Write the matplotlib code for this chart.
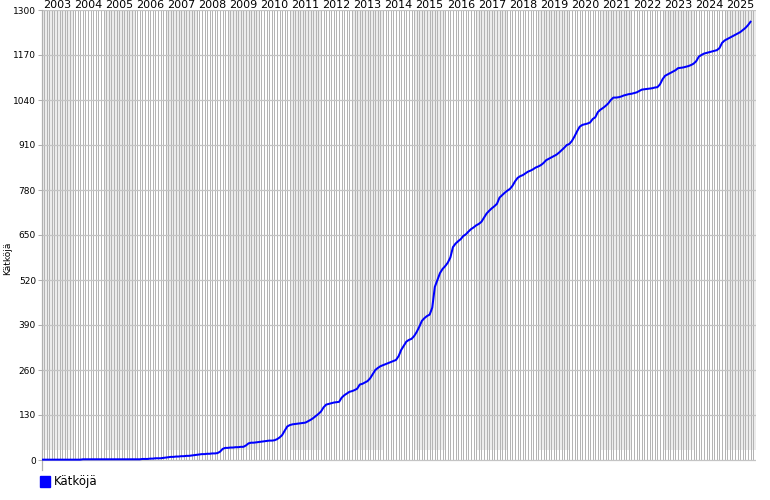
import matplotlib
matplotlib.use("Agg")
import matplotlib.pyplot as plt
import numpy as np

plt.rcParams['font.family'] = ['DejaVu Sans']

series_label = "Kätköjä"
start_year = 2003
years = list(range(2003, 2026))
yticks = [0, 130, 260, 390, 520, 650, 780, 910, 1040, 1170, 1300]

# monthly cumulative counts, Jan 2003 .. Nov 2025
values = [
    # 2003
    1, 1, 1, 1, 1, 1, 1, 1, 1, 1, 1, 1,
    # 2004
    1, 1, 1, 1, 2, 2, 2, 2, 2, 2, 2, 2,
    # 2005
    2, 2, 2, 2, 2, 2, 2, 2, 2, 2, 2, 2,
    # 2006
    2, 2, 2, 3, 3, 3, 4, 4, 5, 5, 5, 6,
    # 2007
    7, 8, 9, 9, 10, 10, 11, 11, 12, 12, 13, 14,
    # 2008
    15, 16, 17, 17, 18, 18, 19, 19, 20, 24, 32, 35,
    # 2009
    35, 36, 36, 37, 37, 38, 38, 42, 48, 50, 50, 51,
    # 2010
    52, 53, 54, 55, 56, 56, 57, 60, 65, 72, 85, 97,
    # 2011
    101, 103, 104, 105, 106, 107, 108, 112, 116, 121, 127, 133,
    # 2012
    140, 152, 160, 162, 164, 166, 167, 168, 180, 187, 192, 197,
    # 2013
    199, 202, 206, 218, 220, 224, 228, 236, 248, 260, 266, 271,
    # 2014
    274, 277, 280, 283, 286, 289, 300, 318, 330, 342, 347, 350,
    # 2015
    358, 370, 385, 402, 410, 416, 420, 440, 500, 520, 540, 552,
    # 2016
    560, 570, 585, 615, 625, 632, 638, 647, 652, 660, 667, 672,
    # 2017
    678, 682, 688, 700, 712, 720, 727, 733, 740, 758, 765, 772,
    # 2018
    778, 783, 792, 805, 815, 820, 823, 828, 833, 836, 840, 845,
    # 2019
    848, 852, 858, 866, 870, 874, 878, 882, 888, 895, 902, 910,
    # 2020
    913, 922, 935, 950, 963, 968, 970, 972, 975, 985, 990, 1005,
    # 2021
    1012, 1017, 1023, 1030, 1040, 1047, 1047, 1048, 1050, 1053, 1055, 1057,
    # 2022
    1058, 1060, 1062, 1066, 1070, 1071, 1072, 1073, 1074, 1076, 1077, 1085,
    # 2023
    1100, 1110, 1114, 1118, 1122, 1126, 1132, 1133, 1134, 1136, 1138, 1141,
    # 2024
    1145, 1152, 1165, 1170, 1174, 1176, 1178, 1180, 1182, 1184, 1190, 1205,
    # 2025
    1212, 1216, 1220, 1224, 1228, 1232, 1236, 1242, 1248, 1256, 1266,
]

W, H = 770, 500
fig = plt.figure(figsize=(W / 100, H / 100), dpi=100)
left_px, right_px, top_px, bottom_px = 41.5, 755.7, 10, 470
ax = fig.add_axes([left_px / W, 1 - bottom_px / H,
                   (right_px - left_px) / W, (bottom_px - top_px) / H])

ymax = yticks[-1]
y_per_px = ymax / (460 - 10)
ymin = -(470 - 460) * y_per_px
ax.set_ylim(ymin, ymax)
x_end = years[-1] + 1
ax.set_xlim(start_year, x_end)

# alternating year bands
band_bottom = 10 * y_per_px
for y in years:
    if y % 2 == 1:
        ax.fill_between([y, y + 1], band_bottom, ymax, color='#ececec', lw=0, zorder=0)

# monthly vertical gridlines
months = np.arange(start_year, x_end, 1 / 12)
ax.vlines(months, 0, ymax, colors='#b4b4b4', lw=0.72, zorder=1)

# horizontal gridlines
ax.hlines(yticks, start_year, x_end, colors='#c4c4c4', lw=0.9, zorder=1.5)

x = start_year + np.arange(len(values)) / 12
ax.plot(x, values, color='#0000ff', lw=1.45, zorder=3)

for s in ['top', 'right', 'bottom']:
    ax.spines[s].set_visible(False)
ax.spines['left'].set_color('#b0b0b0')
ax.spines['left'].set_linewidth(0.9)

ax.set_yticks(yticks)
ax.set_yticklabels([str(v) for v in yticks], fontsize=6.5)
ax.tick_params(axis='y', length=3, color='#b0b0b0', width=0.75, pad=1)
ax.set_xticks([])

for y in years:
    ax.text(y + 0.5, 1 - 5.5 / H, str(y), transform=ax.get_xaxis_transform().__class__(ax.transData, fig.transFigure),
            ha='center', va='center', fontsize=8)

fig.text(8 / W, 1 - 258 / H, series_label, rotation=90, ha='center', va='center', fontsize=6.5)

# legend
fig.patches.append(plt.Rectangle((40 / W, 1 - 487 / H), 10 / W, 11 / H,
                                 transform=fig.transFigure, color='#0000ff'))
fig.text(54 / W, 1 - 481.5 / H, series_label, ha='left', va='center', fontsize=8.5)

fig.savefig('out.png', dpi=100)
